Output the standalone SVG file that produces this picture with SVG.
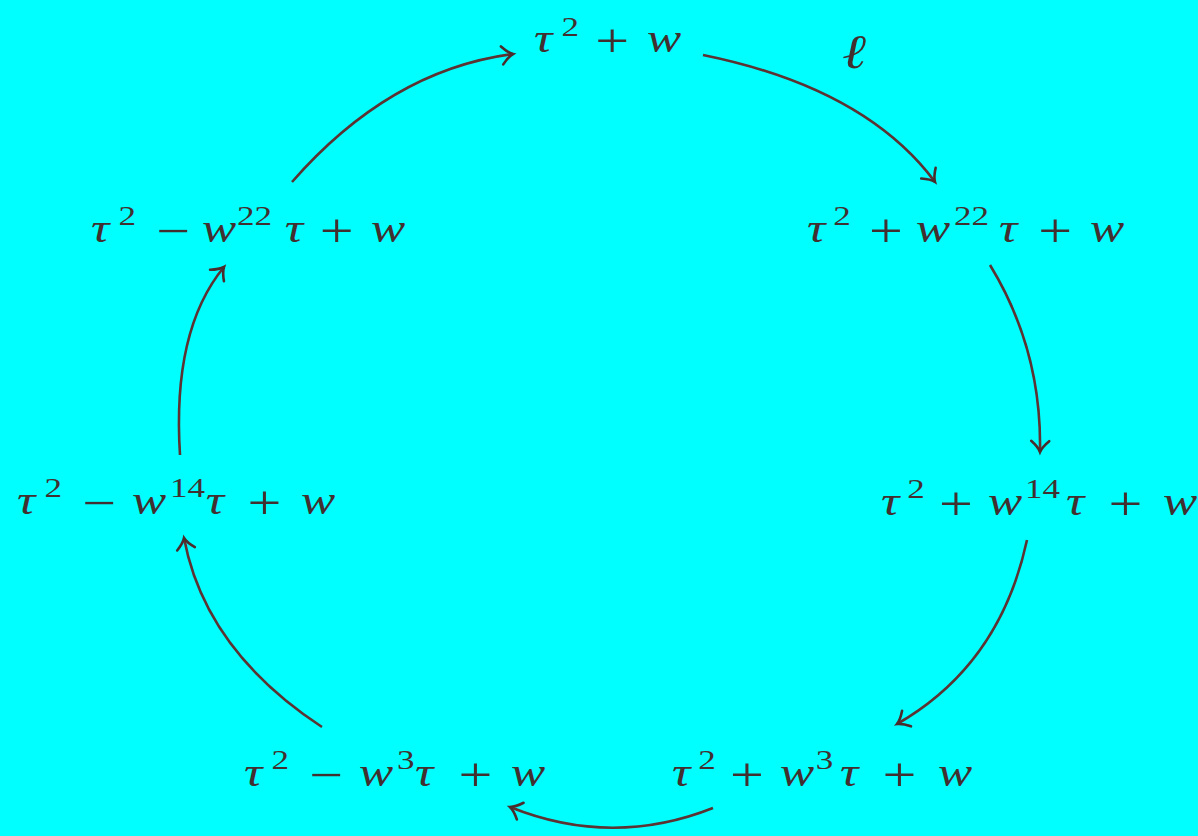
<svg xmlns="http://www.w3.org/2000/svg" width="1198" height="836" viewBox="0 0 1198 836">
<defs>
<style>
.m{font-family:"Liberation Serif","DejaVu Serif",serif;fill:#423030;font-size:41px}
.i{font-style:italic}
.s{font-size:28px;font-style:normal}
.o{font-size:48px;font-style:normal}
.c{fill:none;stroke:#5c3232;stroke-width:2.6}
</style>
<marker id="ah" markerUnits="userSpaceOnUse" markerWidth="30" markerHeight="30" viewBox="-15 -15 30 30" refX="0" refY="0" orient="auto" overflow="visible">
<path d="M -11,-9 Q -5,-2 0,0 Q -5,2 -11,9" fill="none" stroke="#4a2c2c" stroke-width="2.6" stroke-linecap="round"/>
</marker>
</defs>
<rect width="1198" height="836" fill="#00FFFF"/>
<g id="connectors">
<path class="c" d="M 703,55 Q 865,88 935,182" marker-end="url(#ah)"/>
<path class="c" d="M 990,265 Q 1042,350 1040,452" marker-end="url(#ah)"/>
<path class="c" d="M 1027,540 Q 1000,665 897,724" marker-end="url(#ah)"/>
<path class="c" d="M 713,808 Q 612,848 510,807" marker-end="url(#ah)"/>
<path class="c" d="M 322,727 Q 205,650 184,538" marker-end="url(#ah)"/>
<path class="c" d="M 180,455 Q 172,330 224,267" marker-end="url(#ah)"/>
<path class="c" d="M 292,182 Q 390,70 513,54" marker-end="url(#ah)"/>
<text class="m i" transform="matrix(1.2 0 0 1 842 0)" x="0" y="68" style="font-size:48px">ℓ</text>
</g>
<g id="n0">
<text class="m" transform="matrix(1.25 0 0 1 534 0)"><tspan class="i" x="0" y="52">τ</tspan><tspan class="s" x="22" y="36">2</tspan><tspan class="o" x="49" y="57">+</tspan><tspan class="i" x="90.5" y="52">w</tspan></text>
</g>
<g id="n1">
<text class="m" transform="matrix(1.25 0 0 1 807 0)"><tspan class="i" x="0" y="242">τ</tspan><tspan class="s" x="21" y="225">2</tspan><tspan class="o" x="49.6" y="247">+</tspan><tspan class="i" x="87.2" y="242">w</tspan><tspan class="s" x="117.6" y="225">22</tspan><tspan class="i" x="153.6" y="242">τ</tspan><tspan class="o" x="185" y="247">+</tspan><tspan class="i" x="226.4" y="242">w</tspan></text>
</g>
<g id="n2">
<text class="m" transform="matrix(1.25 0 0 1 881 0)"><tspan class="i" x="0" y="515">τ</tspan><tspan class="s" x="21" y="498">2</tspan><tspan class="o" x="46.4" y="520">+</tspan><tspan class="i" x="85.6" y="515">w</tspan><tspan class="s" x="115.2" y="498">14</tspan><tspan class="i" x="148" y="515">τ</tspan><tspan class="o" x="182" y="520">+</tspan><tspan class="i" x="225.6" y="515">w</tspan></text>
</g>
<g id="n3">
<text class="m" transform="matrix(1.25 0 0 1 672 0)"><tspan class="i" x="0" y="786">τ</tspan><tspan class="s" x="21" y="769">2</tspan><tspan class="o" x="46.4" y="791">+</tspan><tspan class="i" x="86.4" y="786">w</tspan><tspan class="s" x="115" y="769">3</tspan><tspan class="i" x="134.4" y="786">τ</tspan><tspan class="o" x="168.4" y="791">+</tspan><tspan class="i" x="212.8" y="786">w</tspan></text>
</g>
<g id="n4">
<text class="m" transform="matrix(1.25 0 0 1 244 0)"><tspan class="i" x="0" y="786">τ</tspan><tspan class="s" x="22" y="769">2</tspan><tspan class="o" x="52" y="791">−</tspan><tspan class="i" x="92" y="786">w</tspan><tspan class="s" x="122.4" y="769">3</tspan><tspan class="i" x="136.8" y="786">τ</tspan><tspan class="o" x="171.6" y="791">+</tspan><tspan class="i" x="213.6" y="786">w</tspan></text>
</g>
<g id="n5">
<text class="m" transform="matrix(1.25 0 0 1 17 0)"><tspan class="i" x="0" y="514">τ</tspan><tspan class="s" x="22" y="497">2</tspan><tspan class="o" x="52" y="519">−</tspan><tspan class="i" x="92" y="514">w</tspan><tspan class="s" x="122.4" y="497">14</tspan><tspan class="i" x="151" y="514">τ</tspan><tspan class="o" x="184.4" y="519">+</tspan><tspan class="i" x="227.2" y="514">w</tspan></text>
</g>
<g id="n6">
<text class="m" transform="matrix(1.25 0 0 1 91 0)"><tspan class="i" x="0" y="242">τ</tspan><tspan class="s" x="22" y="225">2</tspan><tspan class="o" x="52" y="247">−</tspan><tspan class="i" x="88.8" y="242">w</tspan><tspan class="s" x="116.8" y="225">22</tspan><tspan class="i" x="155" y="242">τ</tspan><tspan class="o" x="183" y="247">+</tspan><tspan class="i" x="224" y="242">w</tspan></text>
</g>
</svg>
